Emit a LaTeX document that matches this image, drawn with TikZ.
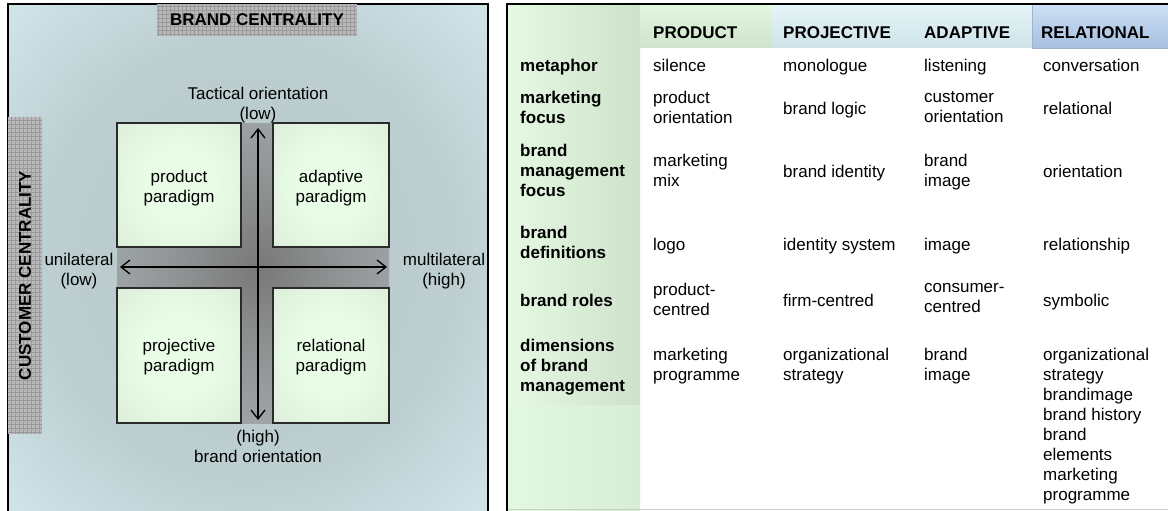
\documentclass[tikz,border=0pt]{standalone}
\usepackage{fontspec}
\setmainfont{Liberation Sans}
\usetikzlibrary{arrows.meta}

\definecolor{bgblue}{HTML}{D5E9ED}
\definecolor{hazein}{HTML}{B6C7CA}
\definecolor{hazemid}{HTML}{BECFD2}
\definecolor{crossin}{HTML}{787878}
\definecolor{crossmid}{HTML}{8D9091}
\definecolor{crossout}{HTML}{C0CCCF}
\definecolor{boxin}{HTML}{E8FCE6}
\definecolor{boxout}{HTML}{D5E5D2}
\definecolor{boxline}{HTML}{2A2A2A}
\definecolor{gridbg}{HTML}{B9B9B9}
\definecolor{gridln}{HTML}{999999}
\definecolor{lcolL}{HTML}{E6FAE3}
\definecolor{lcolR}{HTML}{CEE2CB}
\definecolor{lowL}{HTML}{E3F8E0}
\definecolor{lowR}{HTML}{D8EDD5}
\definecolor{prodTop}{HTML}{E4F7E1}
\definecolor{prodBot}{HTML}{CFE4CC}
\definecolor{projTop}{HTML}{E6F5F8}
\definecolor{projBot}{HTML}{CDE3E8}
\definecolor{relTop}{HTML}{CFE0F4}
\definecolor{relBot}{HTML}{A6BFE1}
\definecolor{relLine}{HTML}{9DB3D0}

\pgfdeclareradialshading{haze}{\pgfpoint{0bp}{0bp}}{color(0bp)=(hazein); color(22bp)=(hazemid); color(38bp)=(bgblue); color(50bp)=(bgblue)}
\pgfdeclareradialshading{crossshade}{\pgfpoint{0bp}{0bp}}{color(0bp)=(crossin); color(12bp)=(crossmid); color(50bp)=(crossout)}
\pgfdeclareradialshading{boxshade}{\pgfpoint{0bp}{0bp}}{color(0bp)=(boxin); color(15bp)=(boxin); color(50bp)=(boxout)}

\tikzset{
  frame/.style={line width=1.6pt, draw=black},
  para/.style={draw=boxline, line width=1.2pt, shading=boxshade, inner sep=0pt, outer sep=0pt, anchor=north west},
  lbl/.style={font=\fontsize{17}{20}\selectfont, inner sep=0pt, align=center, anchor=north, execute at begin node={\rule{0pt}{13pt}}},
  cell/.style={font=\fontsize{17}{20}\selectfont, inner sep=0pt, align=left, anchor=north west, execute at begin node={\rule{0pt}{13pt}}},
  hcell/.style={cell, font=\fontsize{17}{20}\selectfont\bfseries},
  centbox/.style={fill=gridbg, inner sep=0pt, outer sep=0pt, font=\fontsize{17}{20}\selectfont\bfseries,
    path picture={\draw[gridln, line width=0.5pt, step=4pt] (path picture bounding box.south west) grid (path picture bounding box.north east);}},
  axis/.style={line width=1.3pt, {Straight Barb[length=9pt,width=14pt]}-{Straight Barb[length=9pt,width=14pt]}}
}

\begin{document}
\begin{tikzpicture}[x=1pt, y=-1pt]
\useasboundingbox (0,0) rectangle (1168,511);
\fill[white] (0,0) rectangle (1168,511);

% ---------- left panel ----------
\shade[shading=haze] (8,4) rectangle (488,515);
\begin{scope}
  \clip (117,123) rectangle (389,423);
  \shade[shading=crossshade] (112,111) rectangle (404,423);
\end{scope}
\draw[frame] (8,515) -- (8,4) -- (488,4) -- (488,515);

\node[para, minimum width=124pt, minimum height=124pt] (ul) at (117,123) {};
\node[para, minimum width=116pt, minimum height=124pt] (ur) at (273,123) {};
\node[para, minimum width=124pt, minimum height=135pt] (ll) at (117,288) {};
\node[para, minimum width=116pt, minimum height=135pt] (lr) at (273,288) {};

\node[lbl] (ult) at (179,170) {product\\paradigm};
\node[lbl] (urt) at (331,170) {adaptive\\paradigm};
\node[lbl] (llt) at (179,339) {projective\\paradigm};
\node[lbl] (lrt) at (331,339) {relational\\paradigm};

\coordinate (hl) at (120,267);
\coordinate (hr) at (387,267);
\coordinate (vt) at (258,128);
\coordinate (vb) at (258,420);
\draw[axis] (hl) -- (hr);
\draw[axis] (vt) -- (vb);

\node[lbl] (tact) at (258,87) {Tactical orientation\\(low)};
\node[lbl] (brandor) at (258,430) {(high)\\brand orientation};
\node[lbl] (unil) at (79,253) {unilateral\\(low)};
\node[lbl] (multi) at (444,253) {multilateral\\(high)};

\node[centbox, minimum width=200pt, minimum height=32pt] (bc) at (257,20) {BRAND CENTRALITY};
\node[centbox, rotate=90, minimum width=317pt, minimum height=34pt] (cc) at (25,275.5) {CUSTOMER CENTRALITY};

% ---------- right panel ----------
\shade[left color=lcolL, right color=lcolR] (507,4) rectangle (640,405);
\shade[left color=lowL, right color=lowR] (507,405) rectangle (640,515);
\shade[top color=prodTop, bottom color=prodBot] (640,4) rectangle (771,48);
\shade[top color=projTop, bottom color=projBot] (771,4) rectangle (1032,48);
\shade[top color=relTop, bottom color=relBot, draw=relLine, line width=0.6pt] (1032,4) rectangle (1172,48);
\draw[black!20, line width=1pt] (507,509.5) -- (1172,509.5);
\draw[frame] (507,515) -- (507,4) -- (1172,4);

\node[hcell] (h1) at (653,25) {PRODUCT};
\node[hcell] (h2) at (783,25) {PROJECTIVE};
\node[hcell] (h3) at (924,25) {ADAPTIVE};
\node[hcell] (h4) at (1041,25) {RELATIONAL};

\node[hcell] (r1) at (520,58) {metaphor};
\node[hcell] (r2) at (520,91) {marketing\\focus};
\node[hcell] (r3) at (520,144) {brand\\management\\focus};
\node[hcell] (r4) at (520,226) {brand\\definitions};
\node[hcell] (r5) at (520,293) {brand roles};
\node[hcell] (r6) at (520,339) {dimensions\\of brand\\management};

\node[cell] (c11) at (653,58) {silence};
\node[cell] (c12) at (783,58) {monologue};
\node[cell] (c13) at (924,58) {listening};
\node[cell] (c14) at (1043,58) {conversation};

\node[cell] (c21) at (653,91) {product\\orientation};
\node[cell] (c22) at (783,101) {brand logic};
\node[cell] (c23) at (924,91) {customer\\orientation};
\node[cell] (c24) at (1043,101) {relational};

\node[cell] (c31) at (653,154) {marketing\\mix};
\node[cell] (c32) at (783,164) {brand identity};
\node[cell] (c33) at (924,154) {brand\\image};
\node[cell] (c34) at (1043,164) {orientation};

\node[cell] (c41) at (653,237) {logo};
\node[cell] (c42) at (783,237) {identity system};
\node[cell] (c43) at (924,237) {image};
\node[cell] (c44) at (1043,237) {relationship};

\node[cell] (c51) at (653,283) {product-\\centred};
\node[cell] (c52) at (783,293) {firm-centred};
\node[cell] (c53) at (924,283) {consumer-\\centred};
\node[cell] (c54) at (1043,293) {symbolic};

\node[cell] (c61) at (653,348) {marketing\\programme};
\node[cell] (c62) at (783,348) {organizational\\strategy};
\node[cell] (c63) at (924,348) {brand\\image};
\node[cell] (c64) at (1043,348) {organizational\\strategy\\brandimage\\brand history\\brand\\elements\\marketing\\programme};
\end{tikzpicture}
\end{document}
